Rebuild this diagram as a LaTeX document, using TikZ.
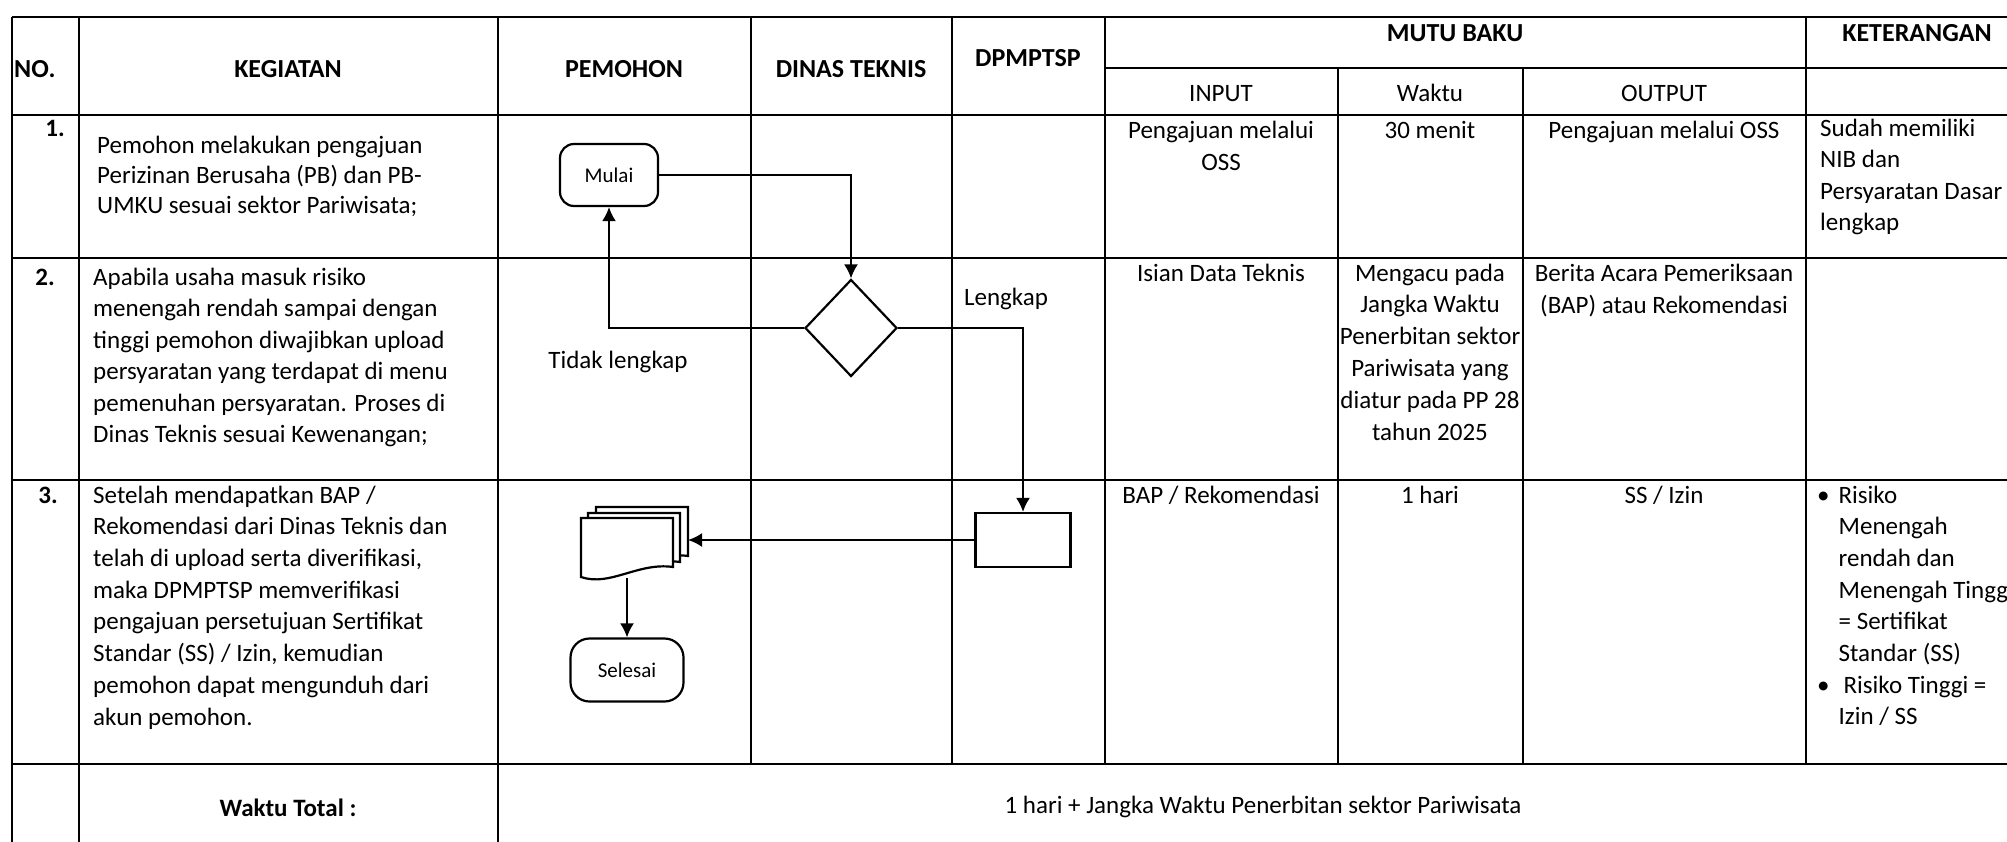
\documentclass[tikz,border=0pt]{standalone}
\usepackage{fontspec}
\setmainfont{Carlito}
\usetikzlibrary{shapes.geometric,arrows.meta}
\newcommand\isi{\fontsize{25}{31.5}\selectfont}
\newcommand\judul{\fontsize{26}{31}\selectfont\bfseries}
\newcommand\kecil{\fontsize{21}{25}\selectfont}

\begin{document}
\begin{tikzpicture}[x=1pt, y=-1pt, >={Latex[length=14pt,width=14pt]},
	garis/.style={line width=1.9pt},
	alur/.style={line width=2pt},
	teks/.style={font=\isi, inner sep=0pt, anchor=base west, align=left},
	tengah/.style={font=\isi, inner sep=0pt, anchor=base, align=center},
	kepala/.style={font=\judul, inner sep=0pt, anchor=base},
	terminal/.style={draw, line width=2.2pt, fill=white, rounded corners=14pt, font=\kecil, inner sep=0pt},
	proses/.style={draw, line width=2.2pt, fill=white, inner sep=0pt},
	keputusan/.style={draw, diamond, line width=2.2pt, fill=white, inner sep=0pt}]
	\useasboundingbox (0,0) rectangle (2007,841);
	\clip (0,0) rectangle (2007,841);

	% 1. garis tabel
	\draw[garis] (12,17) -- (2028,17);
	\draw[garis] (1105,68) -- (2028,68);
	\draw[garis] (12,115) -- (2028,115);
	\draw[garis] (12,258) -- (2028,258);
	\draw[garis] (12,480) -- (2028,480);
	\draw[garis] (12,764) -- (2028,764);
	\draw[garis] (12,17) -- (12,860);
	\draw[garis] (79,17) -- (79,860);
	\draw[garis] (498,17) -- (498,860);
	\draw[garis] (751,17) -- (751,764);
	\draw[garis] (952,17) -- (952,764);
	\draw[garis] (1105,17) -- (1105,764);
	\draw[garis] (1338,68) -- (1338,764);
	\draw[garis] (1523,68) -- (1523,764);
	\draw[garis] (1806,17) -- (1806,764);
	\draw[garis] (2028,17) -- (2028,860);

	% 2. judul kolom
	\node[kepala, anchor=base west] (hNo) at (14,77) {NO.};
	\node[kepala] (hKeg) at (288,77) {KEGIATAN};
	\node[kepala] (hPem) at (624,77) {PEMOHON};
	\node[kepala] (hDin) at (851,77) {DINAS TEKNIS};
	\node[kepala] (hDpm) at (1028,66) {DPMPTSP};
	\node[kepala] (hMutu) at (1455,41) {MUTU BAKU};
	\node[kepala] (hKet) at (1917,41) {KETERANGAN};
	\node[tengah] (hIn) at (1221,101) {INPUT};
	\node[tengah] (hWak) at (1430,101) {Waktu};
	\node[tengah] (hOut) at (1664,101) {OUTPUT};

	% 3. nomor dan kegiatan (base = baris terakhir)
	\node[kepala, font=\isi\bfseries, anchor=base east] (no1) at (65,136) {1.};
	\node[kepala, font=\isi\bfseries, anchor=base east] (no2) at (55,285) {2.};
	\node[kepala, font=\isi\bfseries, anchor=base east] (no3) at (58,503) {3.};
	\node[teks, font=\fontsize{25}{30}\selectfont] (keg1) at (97,213) {Pemohon melakukan pengajuan\\Perizinan Berusaha (PB) dan PB-\\UMKU sesuai sektor Pariwisata;};
	\node[teks] (keg2) at (93,442.5) {Apabila usaha masuk risiko\\menengah rendah sampai dengan\\tinggi pemohon diwajibkan upload\\persyaratan yang terdapat di menu\\pemenuhan persyaratan. Proses di\\Dinas Teknis sesuai Kewenangan;};
	\node[teks, font=\fontsize{25}{31.7}\selectfont] (keg3) at (93,725) {Setelah mendapatkan BAP /\\Rekomendasi dari Dinas Teknis dan\\telah di upload serta diverifikasi,\\maka DPMPTSP memverifikasi\\pengajuan persetujuan Sertifikat\\Standar (SS) / Izin, kemudian\\pemohon dapat mengunduh dari\\akun pemohon.};

	% 4. mutu baku dan keterangan
	\node[tengah, font=\fontsize{25}{32}\selectfont] (in1) at (1221,170) {Pengajuan melalui\\OSS};
	\node[tengah] (wak1) at (1430,138) {30 menit};
	\node[tengah] (out1) at (1664,138) {Pengajuan melalui OSS};
	\node[teks] (ket1) at (1820,230.5) {Sudah memiliki\\NIB dan\\Persyaratan Dasar\\lengkap};
	\node[tengah] (in2) at (1221,281) {Isian Data Teknis};
	\node[tengah, font=\fontsize{25}{31.8}\selectfont] (wak2) at (1430,440) {Mengacu pada\\Jangka Waktu\\Penerbitan sektor\\Pariwisata yang\\diatur pada PP 28\\tahun 2025};
	\node[tengah, font=\fontsize{25}{32}\selectfont] (out2) at (1664,313) {Berita Acara Pemeriksaan\\(BAP) atau Rekomendasi};
	\node[tengah] (in3) at (1221,503) {BAP / Rekomendasi};
	\node[tengah] (wak3) at (1430,503) {1 hari};
	\node[tengah] (out3) at (1664,503) {SS / Izin};
	\node[teks, font=\fontsize{25}{31.7}\selectfont] (ket3) at (1817,503) {\begin{tabular}[t]{@{}l@{\hspace{9pt}}l@{}}
		\textbullet & Risiko\\
		& Menengah\\
		& rendah dan\\
		& Menengah Tinggi\\
		& = Sertifikat\\
		& Standar (SS)\\
		\textbullet & \hspace{5pt}Risiko Tinggi =\\
		& Izin / SS
	\end{tabular}};

	% 5. waktu total
	\node[kepala, font=\isi\bfseries] (total) at (288,816) {Waktu Total :};
	\node[tengah] (jangka) at (1263,813) {1 hari + Jangka Waktu Penerbitan sektor Pariwisata};

	% 6. bagan alir
	\node[terminal, minimum width=98pt, minimum height=62pt] (mulai) at (609,175) {Mulai};
	\node[keputusan, minimum width=92pt, minimum height=97pt] (cek) at (851,328) {};
	\node[proses, minimum width=95pt, minimum height=54pt] (periksa) at (1023,540) {};
	\node[terminal, rounded corners=19pt, minimum width=113pt, minimum height=63pt] (selesai) at (627,670) {Selesai};
	\filldraw[alur, line width=2.2pt, fill=white, shift={(15,-11)}] (581,518) -- (581,577) .. controls (610,587) and (638,562) .. (673,567) -- (673,518) -- cycle;
	\filldraw[alur, line width=2.2pt, fill=white, shift={(7,-5)}] (581,518) -- (581,577) .. controls (610,587) and (638,562) .. (673,567) -- (673,518) -- cycle;
	\filldraw[alur, line width=2.2pt, fill=white] (581,518) -- (581,577) .. controls (610,587) and (638,562) .. (673,567) -- (673,518) -- cycle;
	\coordinate (berkasR) at (688,540);
	\coordinate (berkasB) at (627,578);

	\draw[alur,->] (mulai.east) -| (cek.north);
	\draw[alur,->] (cek.west) -| (mulai.south);
	\draw[alur,->] (cek.east) -| (periksa.north);
	\draw[alur,->] (periksa.west) -- (periksa.west -| berkasR);
	\draw[alur,->] (berkasB) -- (selesai.north);
	\node[tengah] (tidak) at (618,368) {Tidak lengkap};
	\node[tengah] (lengkap) at (1006,305) {Lengkap};
\end{tikzpicture}
\end{document}
